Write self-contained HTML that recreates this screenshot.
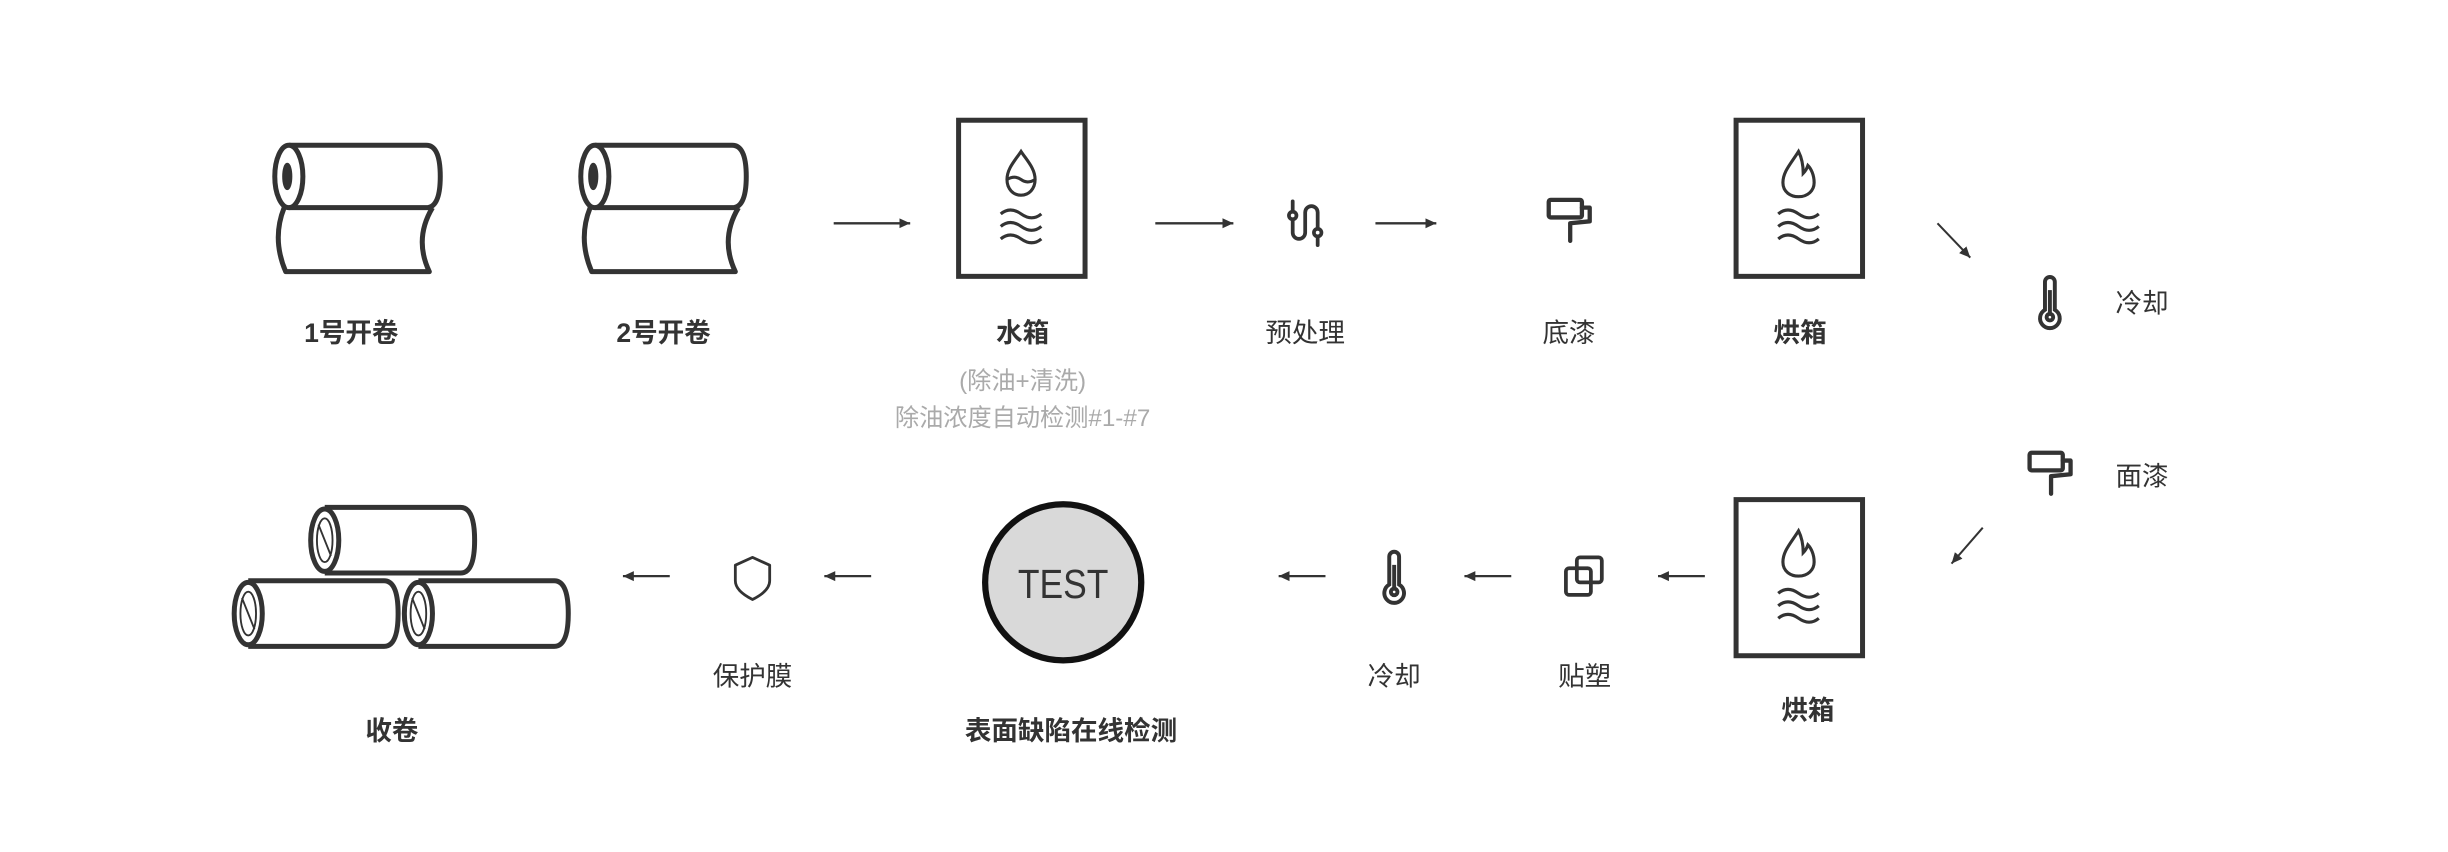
<!DOCTYPE html>
<html><head><meta charset="utf-8"><style>
html,body{margin:0;padding:0;background:#fff;}
svg{display:block;}
text{font-family:"Liberation Sans","Noto Sans CJK SC",sans-serif;fill:#333;text-anchor:middle;}
.b{font-weight:bold;font-size:17px;}
.r{font-size:17px;}
.g{font-size:15.5px;fill:#aaa;}
</style></head><body>
<svg width="2448" height="852" viewBox="0 0 1568 545.7" xmlns="http://www.w3.org/2000/svg">
<defs>
<marker id="ah" markerWidth="8" markerHeight="8" refX="7" refY="4" orient="auto" markerUnits="userSpaceOnUse">
<path d="M0,0.8 L7,4 L0,7.2 Z" fill="#333"/></marker>
<g id="roll" fill="none" stroke="#333" stroke-width="3.2" stroke-linejoin="round">
<path d="M185,93 H273 Q282,93 282,113 Q282,133 273,133 H185"/>
<ellipse cx="185" cy="113" rx="9" ry="20" fill="#fff"/>
<ellipse cx="184" cy="113" rx="2.5" ry="8" fill="#333" stroke-width="1.5"/>
<path d="M182,133 Q174,153 183,174 H275 Q265,153 277,133"/>
</g>
<g id="cyl" fill="none" stroke="#333">
<path d="M10,0 H97 Q106,0 106,21 Q106,42 97,42 H10" stroke-width="3.2"/>
<ellipse cx="10" cy="21" rx="9" ry="20" fill="#fff" stroke-width="3.2"/>
<ellipse cx="10" cy="21" rx="5" ry="14" stroke-width="1.2"/>
<line x1="6" y1="11" x2="14" y2="31" stroke-width="1.2"/>
</g>
<g id="box" fill="none" stroke="#333" stroke-width="3.2">
<rect x="0" y="0" width="81" height="100"/>
<path d="M27,60 q6,-5 13,0 t13,0 M27,68 q6,-5 13,0 t13,0 M27,76 q6,-5 13,0 t13,0" stroke-width="2"/>
</g>
<g id="flame" fill="none" stroke="#333" stroke-width="2">
<path d="M40,20 C35,28 30,33 30,40 C30,46 35,49 40,49 C46,49 50,45 50,40 C50,35 48,31 46,29 C45,32 44,33 43,34 C43,29 42,24 40,20 Z"/>
</g>
<g id="therm" fill="none" stroke="#333" stroke-width="2.4">
<path d="M-3,8 V-9 a3,3 0 0 1 6,0 V8 a6,6 0 1 1 -6,0 Z"/>
<circle cx="0" cy="12.5" r="2" />
<line x1="0" y1="-4" x2="0" y2="10" />
</g>
<g id="paint" fill="none" stroke="#333" stroke-width="2.2" stroke-linejoin="round" stroke-linecap="round">
<rect x="-12" y="-12" width="17" height="9" rx="1"/>
<path d="M5,-8 H9 V-1 L-1,0 V9"/>
</g>
</defs>

<use href="#roll"/>
<use href="#roll" x="196"/>
<line x1="534" y1="143" x2="583" y2="143" stroke="#333" stroke-width="1.5" marker-end="url(#ah)"/>
<g transform="translate(614,77)">
<use href="#box"/>
<path d="M40,20 C36,26 31,31 31,38 C31,44 35,48 40,48 C45,48 49,44 49,38 C49,31 44,26 40,20 Z M31,38 q5,-3 9,0 t9,0" fill="none" stroke="#333" stroke-width="2"/>
</g>
<line x1="740" y1="143" x2="790" y2="143" stroke="#333" stroke-width="1.5" marker-end="url(#ah)"/>
<g fill="none" stroke="#333" stroke-width="2.4" stroke-linecap="round">
<path d="M828,129 V149 a4,4 0 0 0 8,0 V136 a4,4 0 0 1 8,0 V157"/>
<circle cx="828" cy="138" r="2.4" fill="#fff"/>
<circle cx="844" cy="149" r="2.4" fill="#fff"/>
</g>
<line x1="881" y1="143" x2="920" y2="143" stroke="#333" stroke-width="1.5" marker-end="url(#ah)"/>
<use href="#paint" transform="translate(1007,143) scale(1.25)"/>
<g transform="translate(1112,77)"><use href="#box"/><use href="#flame"/></g>
<line x1="1241" y1="143" x2="1262" y2="165" stroke="#333" stroke-width="1.3" marker-end="url(#ah)"/>
<use href="#therm" transform="translate(1313,190) scale(1.05)"/>
<text class="r" x="1372" y="200">冷却</text>
<use href="#paint" transform="translate(1315,305) scale(1.25)"/>
<text class="r" x="1372" y="311">面漆</text>
<line x1="1270" y1="338" x2="1250" y2="361" stroke="#333" stroke-width="1.3" marker-end="url(#ah)"/>

<text class="b" x="225" y="219">1号开卷</text>
<text class="b" x="425" y="219">2号开卷</text>
<text class="b" x="655" y="219">水箱</text>
<text class="g" x="655" y="249">(除油+清洗)</text>
<text class="g" x="655" y="273">除油浓度自动检测#1-#7</text>
<text class="r" x="836" y="219">预处理</text>
<text class="r" x="1005" y="219">底漆</text>
<text class="b" x="1153" y="219">烘箱</text>

<g transform="translate(1112,320)"><use href="#box"/><use href="#flame"/></g>
<text class="b" x="1158" y="461">烘箱</text>
<line x1="1092" y1="369" x2="1062" y2="369" stroke="#333" stroke-width="1.5" marker-end="url(#ah)"/>
<g fill="none" stroke="#333" stroke-width="2.4">
<rect x="1003" y="364" width="16" height="17" rx="2"/>
<rect x="1010" y="357" width="16" height="16" rx="2"/>
</g>
<text class="r" x="1015" y="439">贴塑</text>
<line x1="968" y1="369" x2="938" y2="369" stroke="#333" stroke-width="1.5" marker-end="url(#ah)"/>
<use href="#therm" transform="translate(893,366) scale(1.05)"/>
<text class="r" x="893" y="439">冷却</text>
<line x1="849" y1="369" x2="819" y2="369" stroke="#333" stroke-width="1.5" marker-end="url(#ah)"/>
<circle cx="681" cy="373" r="50" fill="#d9d9d9" stroke="#111" stroke-width="4"/>
<text x="681" y="383" style="font-size:26px;fill:#333" textLength="58" lengthAdjust="spacingAndGlyphs">TEST</text>
<text class="b" x="686" y="474">表面缺陷在线检测</text>
<line x1="558" y1="369" x2="528" y2="369" stroke="#333" stroke-width="1.5" marker-end="url(#ah)"/>
<path d="M482,357 L471,362 V372 C471,377 476,381 482,384 C488,381 493,377 493,372 V362 Z" fill="none" stroke="#333" stroke-width="1.8" stroke-linejoin="round"/>
<text class="r" x="482" y="439">保护膜</text>
<line x1="429" y1="369" x2="399" y2="369" stroke="#333" stroke-width="1.5" marker-end="url(#ah)"/>
<use href="#cyl" x="198" y="325"/>
<use href="#cyl" x="149" y="372"/>
<use href="#cyl" x="258" y="372"/>
<text class="b" x="251" y="474">收卷</text>
</svg>
</body></html>
